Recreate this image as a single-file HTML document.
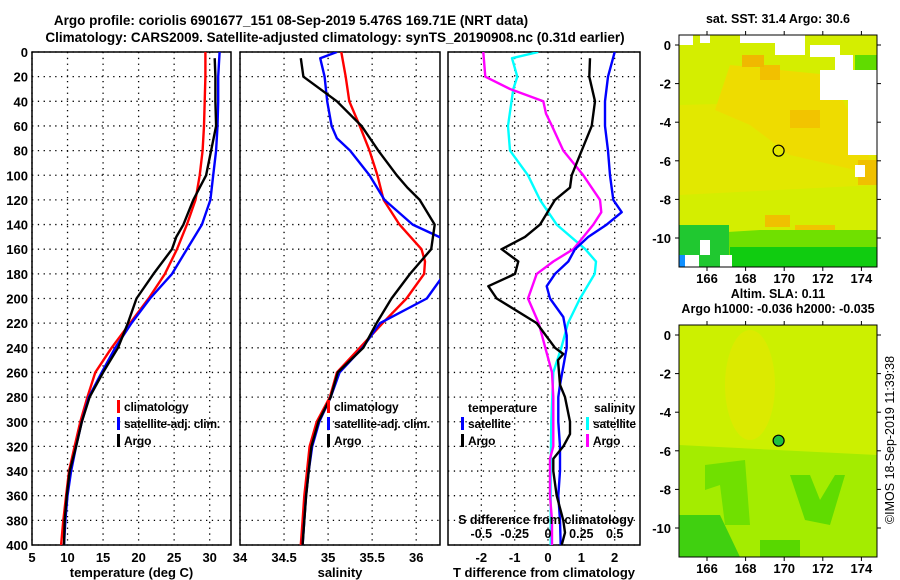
<!DOCTYPE html>
<html><head><meta charset="utf-8">
<style>
html,body{margin:0;padding:0;background:#fff;}
svg{display:block;font-family:"Liberation Sans",Arial,sans-serif;font-weight:bold;}
</style></head>
<body>
<svg id="fig" width="900" height="580" viewBox="0 0 900 580" xmlns="http://www.w3.org/2000/svg">
<text x="291" y="25" font-size="13.5" text-anchor="middle">Argo profile: coriolis 6901677_151 08-Sep-2019 5.476S 169.71E (NRT data)</text>
<text x="335" y="42" font-size="13.5" text-anchor="middle">Climatology: CARS2009. Satellite-adjusted climatology: synTS_20190908.nc (0.31d earlier)</text>
<g id="p1"></g>
<g id="p2"></g>
<g id="p3"></g>
<g id="m1"></g>
<g id="m2"></g>
<text transform="translate(894,440) rotate(-90)" font-size="12.5" font-weight="normal" text-anchor="middle">©IMOS 18-Sep-2019 11:39:38</text>
</svg>
<script>
// ---- data ----
const tDepth = [0,20,40,60,80,100,120,140,160,180,200,220,240,260,280,300,320,340,360,380,400];
const tClim = [29.4,29.4,29.3,29.2,29.0,28.6,28.0,26.8,25.4,23.7,21.4,18.8,16.2,13.9,12.8,11.8,11.0,10.2,9.8,9.4,9.1];
const tSat = [31.4,31.2,31.2,31.1,30.9,30.5,30.1,28.9,26.8,24.7,21.6,19.0,16.7,14.8,13.0,12.0,11.2,10.5,10.0,9.7,9.5];
const argoDepth = [5,20,40,60,80,100,110,120,140,150,160,180,200,220,240,260,280,300,320,340,360,380,400];
const tArgo = [30.7,30.8,30.8,30.9,30.2,29.5,28.6,27.7,26.3,25.3,24.7,22.1,19.7,18.5,17.1,15.0,13.1,12.0,11.2,10.3,9.9,9.6,9.5];
const sDepth = [0,20,40,60,80,100,120,140,160,170,180,200,220,240,260,280,300,320,340,360,380,400];
const sClim = [35.15,35.20,35.24,35.36,35.47,35.56,35.63,35.81,36.06,36.10,36.09,35.89,35.62,35.36,35.10,35.02,34.87,34.79,34.76,34.73,34.71,34.69];
const satSDepth = [0,5,20,40,60,70,80,100,120,140,150,160,180,200,220,240,260,280,300,320,340,360,380,400];
const sSat = [35.10,34.91,34.96,34.99,35.04,35.10,35.25,35.47,35.64,35.96,36.26,36.5,36.32,36.12,35.59,35.39,35.13,35.03,34.90,34.82,34.78,34.75,34.73,34.71];
const sArgo = [34.69,34.72,35.10,35.38,35.57,35.78,35.90,36.04,36.21,36.17,35.93,35.72,35.55,35.40,35.11,35.03,34.89,34.81,34.78,34.75,34.73,34.71];
const sArgoDepth = [5,20,40,60,80,100,110,120,140,160,180,200,220,240,260,280,300,320,340,360,380,400];
const dSatTDepth = [0,20,40,60,80,100,120,130,140,150,160,170,180,190,200,215,230,240,270,280,300,320,340,360,380,400];
const dSatT = [2.0,1.8,1.71,1.71,1.8,1.86,1.96,2.21,1.76,1.21,0.81,0.61,0.21,-0.04,0.06,0.46,0.56,0.56,0.36,0.31,0.31,0.36,0.36,0.31,0.36,0.38];
const dArgoTDepth = [5,20,40,60,80,100,110,120,140,150,160,170,180,190,200,220,240,245,250,270,280,300,310,320,330,340,360,380,390,400];
const dArgoT = [1.26,1.24,1.41,1.31,1.01,0.71,0.66,0.21,-0.24,-0.69,-1.39,-0.89,-0.99,-1.79,-1.54,-0.34,0.21,0.46,0.3,0.36,0.51,0.66,0.66,0.46,0.16,0.16,0.26,0.46,0.51,0.41];
const dSatSDepth = [0,5,20,30,60,80,100,120,140,160,170,180,200,220,240,260,300,340,400];
const dSatS = [-0.073,-0.27,-0.23,-0.26,-0.30,-0.285,-0.15,-0.06,0.065,0.28,0.36,0.35,0.24,0.15,0.10,0.04,0.025,0.02,0.02];
const dArgoSDepth = [0,20,30,40,50,60,80,100,120,130,140,160,170,180,200,220,240,260,280,320,330,360,380,400];
const dArgoS = [-0.485,-0.47,-0.285,-0.035,-0.015,0.03,0.115,0.265,0.39,0.40,0.34,0.19,0.04,-0.085,-0.15,-0.07,-0.02,0.03,0.04,0.04,0.015,0.015,0.03,0.03];
const depthTicks = [0,20,40,60,80,100,120,140,160,180,200,220,240,260,280,300,320,340,360,380,400];
const tTicks = [5,10,15,20,25,30];
const sTicks = [34,34.5,35,35.5,36];
const sTickLabels = ["34","34.5","35","35.5","36"];
const dTTicks = [-2,-1,0,1,2];
const dSTicks = [-0.5,-0.25,0,0.25,0.5];
const dSTickLabels = ["-0.5","-0.25","0","0.25","0.5"];
const lonTicks = [166,168,170,172,174];
const latTicks = [0,-2,-4,-6,-8,-10];

const NS="http://www.w3.org/2000/svg";
function mk(parent,tag,attrs,txt){const e=document.createElementNS(NS,tag);for(const k in attrs)e.setAttribute(k,attrs[k]);if(txt!==undefined)e.textContent=txt;parent.appendChild(e);return e;}
const Y0=52,Y1=545;
function yD(d){return Y0+(Y1-Y0)*d/400;}
function panel(g,x0,x1,xmin,xmax,xTicks,xLabels,showY,xlabel){
  const sx=v=>x0+(x1-x0)*(v-xmin)/(xmax-xmin);
  const cp='clip'+g.id;
  const defs=mk(g,'defs',{});const c=mk(defs,'clipPath',{id:cp});mk(c,'rect',{x:x0,y:Y0,width:x1-x0,height:Y1-Y0});
  depthTicks.forEach(d=>{
    const l=mk(g,'line',{x1:x0,x2:x1,y1:yD(d),y2:yD(d),stroke:'#000','stroke-width':1.3,'stroke-dasharray':'1.3 4.5'});
    
    
    if(showY){const t=mk(g,'text',{x:x0-4,y:yD(d)+5,'font-size':13,'text-anchor':'end'},String(d));
      
      }
  });
  xTicks.forEach((v,i)=>{
    const l=mk(g,'line',{x1:sx(v),x2:sx(v),y1:Y0,y2:Y1,stroke:'#000','stroke-width':1.3,'stroke-dasharray':'1.3 4.5'});
    
    
    if(xLabels){const t=mk(g,'text',{x:sx(v),y:562,'font-size':13,'text-anchor':'middle'},xLabels[i]);
      
      }
  });
  const fr=mk(g,'rect',{x:x0,y:Y0,width:x1-x0,height:Y1-Y0,fill:'none',stroke:'#000','stroke-width':1.5});
  
  
  const xt=mk(g,'text',{x:(x0+x1)/2,y:577,'font-size':13,'text-anchor':'middle'},xlabel);
  
  
  return {sx,cp};
}
function series(g,P,depths,vals,color,name,w,scale){
  const pts=depths.map((d,i)=>P.sx(vals[i]*(scale||1)).toFixed(1)+','+yD(d).toFixed(1)).join(' ');
  const p=mk(g,'polyline',{points:pts,fill:'none',stroke:color,'stroke-width':w||2.4,'clip-path':'url(#'+P.cp+')','stroke-linejoin':'round'});
  
  
}
function legend(g,x,y,color,label){
  const b=mk(g,'rect',{x:x,y:y-11,width:3,height:13,fill:color});
  
  
  const t=mk(g,'text',{x:x+7,y:y,'font-size':12,'letter-spacing':'-0.2'},label);
  
  
}
// panel 1
const g1=document.getElementById('p1');
const P1=panel(g1,32,231,5,33,tTicks,tTicks.map(String),true,'temperature (deg C)');
series(g1,P1,tDepth,tClim,'#f00','temp-climatology-line');
series(g1,P1,tDepth,tSat,'#00f','temp-satellite-line');
series(g1,P1,argoDepth,tArgo,'#000','temp-argo-line');
legend(g1,117,411,'#f00','climatology');legend(g1,117,428,'#00f','satellite-adj. clim.');legend(g1,117,445,'#000','Argo');
// panel 2
const g2=document.getElementById('p2');
const P2=panel(g2,240,440,34,36.27,sTicks,sTickLabels,false,'salinity');
series(g2,P2,sDepth,sClim,'#f00','sal-climatology-line');
series(g2,P2,satSDepth,sSat,'#00f','sal-satellite-line');
series(g2,P2,sArgoDepth,sArgo,'#000','sal-argo-line');
legend(g2,327,411,'#f00','climatology');legend(g2,327,428,'#00f','satellite-adj. clim.');legend(g2,327,445,'#000','Argo');
// panel 3
const g3=document.getElementById('p3');
const P3=panel(g3,448,640,-3,2.76,dTTicks,dTTicks.map(String),false,'T difference from climatology');
series(g3,P3,dSatSDepth,dSatS,'#0ff','sdiff-satellite-line',2.4,4);
series(g3,P3,dArgoSDepth,dArgoS,'#f0f','sdiff-argo-line',2.4,4);
series(g3,P3,dSatTDepth,dSatT,'#00f','tdiff-satellite-line');
series(g3,P3,dArgoTDepth,dArgoT,'#000','tdiff-argo-line');
dSTicks.forEach((v,i)=>{const t=mk(g3,'text',{x:P3.sx(v*4),y:538,'font-size':12.5,'text-anchor':'middle'},dSTickLabels[i]);
  
  });
const st=mk(g3,'text',{x:546,y:524,'font-size':12.5,'text-anchor':'middle'},'S difference from climatology');


const lt=mk(g3,'text',{x:468,y:412,'font-size':12},'temperature');


legend(g3,461,428,'#00f','satellite');legend(g3,461,445,'#000','Argo');
const ls=mk(g3,'text',{x:594,y:412,'font-size':12},'salinity');


legend(g3,586,428,'#0ff','satellite');legend(g3,586,445,'#f0f','Argo');

// maps
function mapFrame(g,y0,title1,title2,kind){
  const x0=679,x1=877,y1=y0+232;
  const lx=v=>707+(v-166)*19.3, ly=v=>y0+10-v*19.3;
  const cp='clip'+g.id;const defs=mk(g,'defs',{});const c=mk(defs,'clipPath',{id:cp});mk(c,'rect',{x:x0,y:y0,width:x1-x0,height:y1-y0});
  const b=mk(g,'g',{'clip-path':'url(#'+cp+')'});
  
  
  if(kind===1){
    mk(b,'rect',{x:x0,y:y0,width:198,height:232,fill:'#d4ee00'});
    mk(b,'polygon',{points:`${x0},${y0+70} 877,${y0+65} 877,${y0+150} ${x0},${y0+160}`,fill:'#e2e800'});
    mk(b,'polygon',{points:`730,${y0+30} 830,${y0+40} 860,${y0+100} 877,${y0+140} 790,${y0+120} 750,${y0+90} 715,${y0+75}`,fill:'#eedc00'});
    mk(b,'rect',{x:790,y:y0+75,width:30,height:18,fill:'#f2c400'});
    mk(b,'rect',{x:760,y:y0+30,width:20,height:15,fill:'#f2c000'});
    mk(b,'rect',{x:742,y:y0+20,width:22,height:12,fill:'#f0b800'});
    mk(b,'rect',{x:795,y:y0+190,width:40,height:15,fill:'#f0c400'});
    mk(b,'rect',{x:765,y:y0+180,width:25,height:12,fill:'#f0c000'});
    mk(b,'rect',{x:858,y:y0+125,width:19,height:25,fill:'#f0c000'});
    mk(b,'polygon',{points:`${x0},${y0+200} 760,${y0+195} 877,${y0+195} 877,${y1} ${x0},${y1}`,fill:'#70e000'});
    mk(b,'rect',{x:x0,y:y0+190,width:50,height:42,fill:'#20c830'});
    mk(b,'rect',{x:730,y:y0+212,width:147,height:20,fill:'#10cc10'});
    mk(b,'rect',{x:855,y:y0+20,width:22,height:40,fill:'#60dc00'});
    [[x0,y0,14,10],[700,y0,10,8],[740,y0,60,8],[775,y0,30,20],[810,y0+10,30,12],[835,y0+20,18,30],[820,y0+35,57,30],[848,y0+65,29,55],[855,y0+130,10,12],[x0,y0+220,20,12],[700,y0+205,10,15],[720,y0+220,12,12]].forEach(r=>{
      const w=mk(b,'rect',{x:r[0],y:r[1],width:r[2],height:r[3],fill:'#fff'});
      
      });
    mk(b,'rect',{x:x0,y:y1-12,width:6,height:12,fill:'#1090ff'});
    const cc=mk(b,'circle',{cx:lx(169.71),cy:ly(-5.476),r:5.5,fill:'none',stroke:'#000','stroke-width':1.2});
    
    
  } else {
    mk(b,'rect',{x:x0,y:y0,width:198,height:232,fill:'#ccf000'});
    mk(b,'ellipse',{cx:750,cy:y0+60,rx:25,ry:55,fill:'#dcea00'});
    mk(b,'polygon',{points:`${x0},${y0+120} 877,${y0+130} 877,${y1} ${x0},${y1}`,fill:'#a4ec00'});
    mk(b,'polygon',{points:`705,${y0+140} 745,${y0+135} 750,${y0+200} 725,${y0+200} 720,${y0+160} 705,${y0+165}`,fill:'#70e000'});
    mk(b,'polygon',{points:`790,${y0+150} 810,${y0+150} 820,${y0+175} 835,${y0+150} 845,${y0+150} 830,${y0+200} 805,${y0+195}`,fill:'#60dc00'});
    mk(b,'polygon',{points:`${x0},${y0+190} 720,${y0+190} 740,${y1} ${x0},${y1}`,fill:'#40d010'});
    mk(b,'rect',{x:760,y:y0+215,width:40,height:17,fill:'#58d800'});
    const cc=mk(b,'circle',{cx:lx(169.71),cy:ly(-5.476),r:5.5,fill:'#20c040',stroke:'#000','stroke-width':1.2});
    
    
  }
  const fr=mk(g,'rect',{x:x0,y:y0,width:198,height:232,fill:'none',stroke:'#000','stroke-width':1});
  
  
  lonTicks.forEach(v=>{
    mk(g,'line',{x1:lx(v),x2:lx(v),y1:y1,y2:y1+4,stroke:'#000'});
    mk(g,'line',{x1:lx(v),x2:lx(v),y1:y0-4,y2:y0,stroke:'#000'});
    const t=mk(g,'text',{x:lx(v),y:y1+16,'font-size':13,'text-anchor':'middle'},String(v));
    
    
  });
  latTicks.forEach(v=>{
    mk(g,'line',{x1:x0-4,x2:x0,y1:ly(v),y2:ly(v),stroke:'#000'});
    mk(g,'line',{x1:x1,x2:x1+4,y1:ly(v),y2:ly(v),stroke:'#000'});
    const t=mk(g,'text',{x:x0-8,y:ly(v)+5,'font-size':13,'text-anchor':'end'},String(v));
    
    
  });
  const t1=mk(g,'text',{x:778,y:y0-12-(title2?15:0),'font-size':12.5,'text-anchor':'middle'},title1);
  
  
  if(title2){const t2=mk(g,'text',{x:778,y:y0-12,'font-size':12.5,'text-anchor':'middle'},title2);
    
    }
}
mapFrame(document.getElementById('m1'),35,'sat. SST: 31.4 Argo: 30.6',null,1);
mapFrame(document.getElementById('m2'),325,'Altim. SLA: 0.11','Argo h1000: -0.036 h2000: -0.035',2);
</script>
</body></html>
